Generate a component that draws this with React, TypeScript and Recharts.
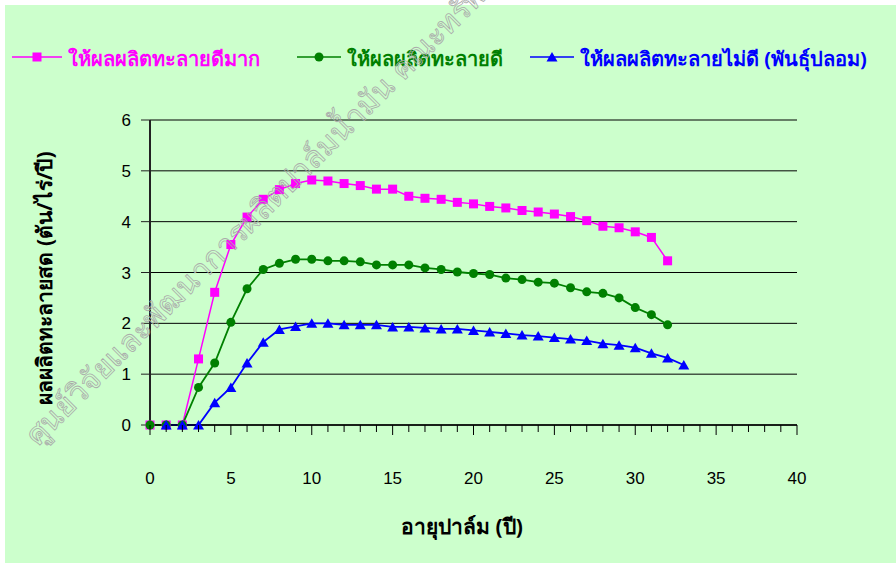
import { LineChart, Line, XAxis, YAxis, CartesianGrid } from 'recharts';

// palm age (years)
const years = [0, 1, 2, 3, 4, 5, 6, 7, 8, 9, 10, 11, 12, 13, 14, 15, 16, 17, 18, 19, 20, 21, 22, 23, 24, 25, 26, 27, 28, 29, 30, 31, 32, 33];

// fresh fruit bunch yield (ton/rai/year)
const veryGood = [0, 0, 0, 1.3, 2.61, 3.55, 4.09, 4.44, 4.63, 4.75, 4.82, 4.8, 4.75, 4.71, 4.64, 4.64, 4.5, 4.46, 4.44, 4.38, 4.35, 4.3, 4.27, 4.22, 4.19, 4.15, 4.1, 4.02, 3.91, 3.88, 3.8, 3.69, 3.23, null];
const good = [0, 0, 0, 0.74, 1.22, 2.02, 2.68, 3.06, 3.18, 3.26, 3.26, 3.23, 3.23, 3.21, 3.15, 3.15, 3.15, 3.09, 3.06, 3.01, 2.98, 2.96, 2.89, 2.86, 2.81, 2.79, 2.7, 2.62, 2.59, 2.5, 2.31, 2.17, 1.97, null];
const poor = [null, 0, 0, 0, 0.44, 0.74, 1.22, 1.63, 1.88, 1.94, 2.0, 2.0, 1.97, 1.97, 1.97, 1.93, 1.93, 1.91, 1.89, 1.89, 1.86, 1.83, 1.8, 1.77, 1.75, 1.72, 1.69, 1.66, 1.6, 1.57, 1.52, 1.41, 1.32, 1.18];

const xTickLabels = [0, 5, 10, 15, 20, 25, 30, 35, 40];
const yTicks = [0, 1, 2, 3, 4, 5, 6];
const seriesNames = ['ให้ผลผลิตทะลายดีมาก', 'ให้ผลผลิตทะลายดี', 'ให้ผลผลิตทะลายไม่ดี (พันธุ์ปลอม)'];

const xMinorTicks = Array.from({ length: 41 }, (_, i) => i);

const data = years.map((year, i) => ({
  year,
  veryGood: veryGood[i],
  good: good[i],
  poor: poor[i],
}));

const MAGENTA = '#FF00FF';
const GREEN = '#008000';
const BLUE = '#0000FF';
const NUM_FONT = '"Liberation Sans", Arial, sans-serif';
const THAI_FONT = '"Noto Sans", "Liberation Sans", sans-serif';

const square = (color: string) => (p: any) =>
  p.cx == null || p.cy == null ? <g key={p.index} /> : (
    <rect key={p.index} x={p.cx - 4.5} y={p.cy - 4.5} width={9} height={9} fill={color} />
  );

const circle = (color: string) => (p: any) =>
  p.cx == null || p.cy == null ? <g key={p.index} /> : (
    <circle key={p.index} cx={p.cx} cy={p.cy} r={4.5} fill={color} />
  );

const triangle = (color: string) => (p: any) =>
  p.cx == null || p.cy == null ? <g key={p.index} /> : (
    <path key={p.index} d={`M${p.cx - 5.5},${p.cy + 4.5}L${p.cx + 5.5},${p.cy + 4.5}L${p.cx},${p.cy - 5}Z`} fill={color} />
  );

const XTick = (props: any) => {
  const { x, y, payload } = props;
  const v = payload.value;
  const major = v % 5 === 0;
  return (
    <g>
      <line x1={x} x2={x} y1={y} y2={y + (major ? 10 : 7)} stroke="#000" strokeWidth={1} />
      {xTickLabels.includes(v) && (
        <text x={x} y={y + 59} textAnchor="middle" fontSize={17} fontFamily={NUM_FONT} fill="#000">
          {v}
        </text>
      )}
    </g>
  );
};

const legendItems = [
  { name: seriesNames[0], color: MAGENTA, x: 12, shape: 'square' },
  { name: seriesNames[1], color: GREEN, x: 297, shape: 'circle' },
  { name: seriesNames[2], color: BLUE, x: 530, shape: 'triangle' },
];

export default function App() {
  return (
    <div style={{ position: 'absolute', left: 0, top: 0, width: 896, height: 563, background: '#fff', overflow: 'hidden' }}>
      <div style={{ position: 'absolute', left: 5, top: 5, right: 0, bottom: 0, background: '#CCFFCC' }} />
      <div style={{ position: 'absolute', left: 0, top: 0 }}>
        <LineChart width={896} height={563} data={data} margin={{ top: 120, right: 99, bottom: 0, left: 0 }}>
          <CartesianGrid vertical={false} stroke="#000" strokeWidth={1} />
          <XAxis
            dataKey="year"
            type="number"
            domain={[0, 40]}
            ticks={xMinorTicks}
            interval={0}
            tick={<XTick />}
            tickLine={false}
            tickSize={0}
            tickMargin={0}
            height={138}
            axisLine={{ stroke: '#000', strokeWidth: 1.5 }}
          />
          <YAxis
            domain={[0, 6]}
            ticks={yTicks}
            width={150}
            tickSize={9}
            tickMargin={10}
            axisLine={{ stroke: '#222', strokeWidth: 2 }}
            tickLine={{ stroke: '#222' }}
            tick={{ fill: '#000', fontSize: 17, fontFamily: NUM_FONT }}
          />
          <Line dataKey="veryGood" stroke={MAGENTA} strokeWidth={1.5} dot={square(MAGENTA)} isAnimationActive={false} />
          <Line dataKey="good" stroke={GREEN} strokeWidth={1.8} dot={circle(GREEN)} isAnimationActive={false} />
          <Line dataKey="poor" stroke={BLUE} strokeWidth={1.8} dot={triangle(BLUE)} isAnimationActive={false} />
        </LineChart>
      </div>
      <svg width={896} height={563} style={{ position: 'absolute', left: 0, top: 0, pointerEvents: 'none' }}>
        {legendItems.map((it) => {
          const lineEnd = it.x + (it.shape === 'square' ? 50 : 44);
          const mid = (it.x + lineEnd) / 2;
          return (
            <g key={it.name}>
              <line x1={it.x} x2={lineEnd} y1={57} y2={57} stroke={it.color} strokeWidth={1.5} />
              {it.shape === 'square' && <rect x={mid - 4.5} y={52.5} width={9} height={9} fill={it.color} />}
              {it.shape === 'circle' && <circle cx={mid} cy={57} r={4.5} fill={it.color} />}
              {it.shape === 'triangle' && <path d={`M${mid - 5.5},${61.5}L${mid + 5.5},${61.5}L${mid},${52}Z`} fill={it.color} />}
              <text x={lineEnd + 6} y={66} fontSize={20} fontWeight="bold" fontFamily={THAI_FONT} fill={it.color}>
                {it.name}
              </text>
            </g>
          );
        })}
        <text x={462} y={534} textAnchor="middle" fontSize={21} fontWeight="bold" fontFamily={THAI_FONT} fill="#000">
          อายุปาล์ม (ปี)
        </text>
        <text x={52} y={278} textAnchor="middle" fontSize={21} fontWeight="bold" fontFamily={THAI_FONT} fill="#000" transform="rotate(-90 52 278)">
          ผลผลิตทะลายสด (ตัน/ไร่/ปี)
        </text>
        <text x={38} y={447} fontSize={30} fontFamily={THAI_FONT} fill="none" stroke="#aaa" strokeWidth={0.8} transform="rotate(-45 38 447)">
          ศูนย์วิจัยและพัฒนาการผลิตปาล์มน้ำมัน  คณะทรัพยากรธรรมชาติ
        </text>
      </svg>
    </div>
  );
}
